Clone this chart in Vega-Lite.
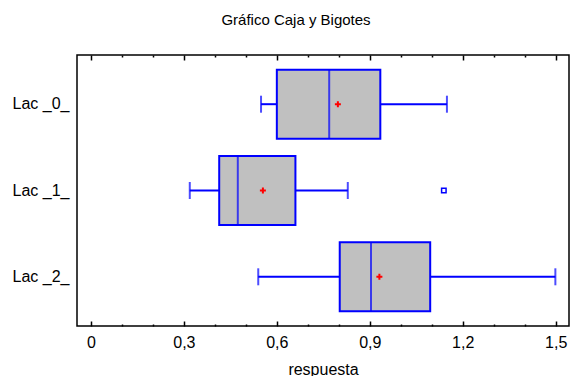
{
  "$schema": "https://vega.github.io/schema/vega-lite/v6.json",
  "width": 492,
  "height": 271,
  "autosize": "none",
  "padding": {"left": 77, "top": 55, "right": 1, "bottom": 50},
  "background": "white",
  "title": {"text": "Gráfico Caja y Bigotes", "font": "Liberation Sans", "fontSize": 15, "fontWeight": "normal", "color": "black", "anchor": "middle", "dx": -27, "offset": 26},
  "config": {
    "view": {"stroke": "black", "strokeWidth": 1.5},
    "axis": {"labelFont": "Liberation Sans", "labelFontSize": 16, "labelColor": "black", "titleFont": "Liberation Sans", "titleFontSize": 16, "titleFontWeight": "normal", "titleColor": "black", "domain": false, "grid": false}
  },
  "datasets": {
    "summary": [
      {"g": "Lac _0_", "lo": 0.549, "q1": 0.600, "med": 0.769, "q3": 0.934, "hi": 1.149, "mean": 0.797},
      {"g": "Lac _1_", "lo": 0.319, "q1": 0.414, "med": 0.474, "q3": 0.660, "hi": 0.829, "mean": 0.555},
      {"g": "Lac _2_", "lo": 0.540, "q1": 0.803, "med": 0.904, "q3": 1.095, "hi": 1.499, "mean": 0.931}
    ],
    "outliers": [
      {"g": "Lac _1_", "v": 1.139}
    ]
  },
  "data": {"name": "summary"},
  "encoding": {
    "y": {"field": "g", "type": "nominal", "sort": null, "scale": {"paddingOuter": 0.07, "paddingInner": 0}, "axis": {"title": null, "ticks": false, "labelPadding": 8}}
  },
  "layer": [
    {
      "mark": {"type": "rule", "color": "#0000FF", "strokeWidth": 2},
      "encoding": {
        "x": {"field": "lo", "type": "quantitative", "scale": {"domain": [-0.045, 1.543], "nice": false, "zero": false},
          "axis": {"orient": "bottom", "title": "respuesta", "titlePadding": 8, "values": [0, 0.1, 0.2, 0.3, 0.4, 0.5, 0.6, 0.7, 0.8, 0.9, 1.0, 1.1, 1.2, 1.3, 1.4, 1.5],
            "labelExpr": "(round(datum.value*10) % 3 == 0) ? replace(format(datum.value, '.1~f'), '.', ',') : ''",
            "tickColor": "black", "tickWidth": 1.5,
            "tickSize": {"condition": {"test": "round(datum.value*10) % 3 == 0", "value": -5}, "value": -2},
            "labelPadding": 13, "labelFlush": false, "labelOverlap": false}},
        "x2": {"field": "q1"}
      }
    },
    {
      "mark": {"type": "rule", "color": "#0000FF", "strokeWidth": 2},
      "encoding": {
        "x": {"field": "q3", "type": "quantitative", "axis": null},
        "x2": {"field": "hi"}
      }
    },
    {
      "mark": {"type": "tick", "orient": "vertical", "color": "#0000FF", "thickness": 2, "size": 17},
      "encoding": {"x": {"field": "lo", "type": "quantitative", "axis": null}}
    },
    {
      "mark": {"type": "tick", "orient": "vertical", "color": "#0000FF", "thickness": 2, "size": 17},
      "encoding": {"x": {"field": "hi", "type": "quantitative", "axis": null}}
    },
    {
      "mark": {"type": "bar", "fill": "#C0C0C0", "stroke": "#0000FF", "strokeWidth": 2, "height": {"band": 0.8}},
      "encoding": {
        "x": {"field": "q1", "type": "quantitative",
          "axis": {"orient": "top", "title": null, "labels": false, "values": [0, 0.1, 0.2, 0.3, 0.4, 0.5, 0.6, 0.7, 0.8, 0.9, 1.0, 1.1, 1.2, 1.3, 1.4, 1.5],
            "tickColor": "black", "tickWidth": 1.5,
            "tickSize": {"condition": {"test": "round(datum.value*10) % 3 == 0", "value": -5}, "value": -2}}},
        "x2": {"field": "q3"}
      }
    },
    {
      "mark": {"type": "tick", "orient": "vertical", "color": "#0000FF", "thickness": 2, "size": 69},
      "encoding": {"x": {"field": "med", "type": "quantitative", "axis": null}}
    },
    {
      "mark": {"type": "point", "shape": "M-1,0H1M0,-1V1", "filled": false, "stroke": "red", "strokeWidth": 2, "size": 36, "opacity": 1},
      "encoding": {"x": {"field": "mean", "type": "quantitative", "axis": null}}
    },
    {
      "data": {"name": "outliers"},
      "mark": {"type": "point", "shape": "square", "filled": false, "stroke": "#0000FF", "strokeWidth": 1.5, "size": 20, "opacity": 1},
      "encoding": {"x": {"field": "v", "type": "quantitative", "axis": null}}
    }
  ],
  "resolve": {"axis": {"x": "independent"}}
}
